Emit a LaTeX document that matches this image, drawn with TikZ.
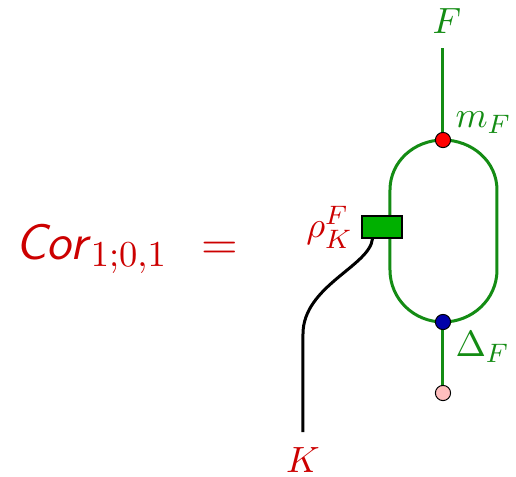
\documentclass[tikz,border=0pt]{standalone}
\usepackage{amsmath}
\usepackage{tikz}
\usetikzlibrary{calc}

\definecolor{strgreen}{RGB}{20,140,20}
\definecolor{boxgreen}{RGB}{0,176,0}
\definecolor{labred}{RGB}{204,0,0}
\definecolor{dotblue}{RGB}{0,0,170}
\definecolor{dotpink}{RGB}{255,190,190}

\tikzset{
  strand/.style={line width=0.9pt,strgreen},
  dot/.style={circle,draw=black,line width=0.3pt,inner sep=0pt,minimum size=0.16cm},
  lab/.style={font=\fontsize{11}{13}\selectfont}
}

\begin{document}
\begin{tikzpicture}[x=1.054cm,y=1.054cm]
\useasboundingbox (0,0) rectangle (5.16,4.76);

\node[labred,font=\fontsize{15}{18}\selectfont,anchor=west,inner sep=0pt] (cor) at (0.15,2.27) {$\textsf{\textit{Cor}}_{1;0,1}\ \mkern2mu=$};

\coordinate (top) at (4.43,4.28);
\node[lab,strgreen] (Flab) at (4.47,4.55) {$F$};
\coordinate (lt) at (3.90,2.86);
\coordinate (lb) at (3.90,2.06);
\coordinate (rt) at (4.97,2.86);
\coordinate (rb) at (4.97,2.06);

\draw[strand] (top) -- (4.43,3.36);
\draw[strand] (4.43,3.36) to[out=180,in=90] (lt) -- (lb) to[out=-90,in=180] (4.43,1.54);
\draw[strand] (4.43,3.36) to[out=0,in=90] (rt) -- (rb) to[out=-90,in=0] (4.43,1.54);
\draw[strand] (4.43,1.54) -- (4.43,0.83);

\node[draw=black,fill=boxgreen,line width=0.4pt,minimum width=0.42cm,minimum height=0.23cm,inner sep=0pt] (rho) at (3.82,2.49) {};
\node[lab,labred,anchor=east,inner sep=1pt] at ([xshift=-0.05cm]rho.west) {$\rho_K^F$};

\coordinate (kend) at (3.03,0.44);
\draw[line width=0.9pt,black] ([xshift=-0.1cm]rho.south) .. controls (3.70,2.10) and (3.03,1.90) .. (3.03,1.42) -- (kend);
\node[lab,labred] (Klab) at (3.03,0.16) {$K$};

\node[dot,fill=red] (mF) at (4.43,3.36) {};
\node[dot,fill=dotblue] (DF) at (4.43,1.54) {};
\node[dot,fill=dotpink] (unit) at (4.43,0.83) {};

\node[lab,strgreen,anchor=south west,inner sep=1pt] at ([xshift=0.03cm,yshift=-0.03cm]mF.north east) {$m_F$};
\node[lab,strgreen,anchor=north west,inner sep=1pt] at ([xshift=0.03cm]DF.south east) {$\Delta_F$};
\end{tikzpicture}
\end{document}
